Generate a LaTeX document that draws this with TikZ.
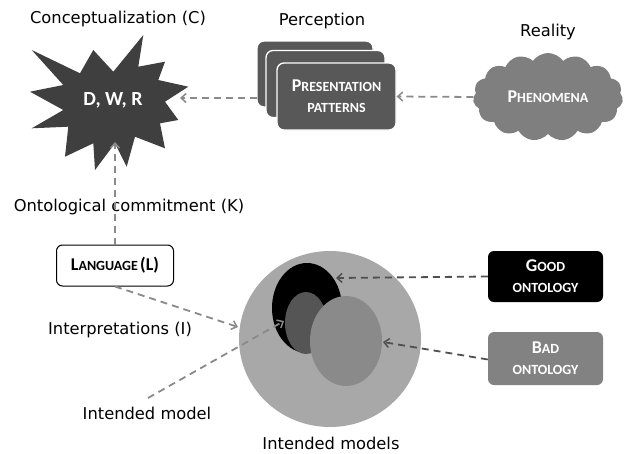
\documentclass[tikz,border=0pt]{standalone}
\usepackage{fontspec}
\setmainfont{DejaVu Sans}
\newfontfamily\boxfont{Carlito}
\usetikzlibrary{arrows.meta,shapes.symbols}
\definecolor{burstc}{HTML}{3F3F3F}
\definecolor{percc}{HTML}{585858}
\definecolor{cloudc}{HTML}{7F7F7F}
\definecolor{bigc}{HTML}{A8A8A8}
\definecolor{darkell}{HTML}{555555}
\definecolor{midell}{HTML}{8A8A8A}
\definecolor{badc}{HTML}{828282}
\definecolor{arrc}{HTML}{8A8A8A}
\definecolor{arrd}{HTML}{505050}
\newcommand\bigsc[1]{{\fontsize{18}{18}\selectfont #1}}
\newcommand\smsc[1]{{\fontsize{14}{16}\selectfont #1}}
\begin{document}
\begin{tikzpicture}[x=1pt,y=-1pt,
  lbl/.style={font=\fontsize{16.3}{19}\selectfont, text=black, inner sep=0pt},
  boxtxt/.style={font=\boxfont\bfseries\fontsize{14}{16}\selectfont, text=white, align=center},
  percbox/.style={fill=percc, draw=white, line width=1.3pt, rounded corners=7pt},
  darr/.style={draw=arrc, line width=1.8pt, dash pattern=on 7pt off 5pt, -{Straight Barb[length=5pt,width=9pt,line width=1.5pt]}},
  darrk/.style={darr, draw=arrd}
]
\useasboundingbox (0,0) rectangle (624,453);

% labels
\node[lbl] (lc) at (118,19) {Conceptualization (C)};
\node[lbl] (lp) at (322,21) {Perception};
\node[lbl] (lr) at (548,32) {Reality};
\node[lbl] (lk) at (129,207) {Ontological commitment (K)};
\node[lbl] (li) at (120,330) {Interpretations (I)};
\node[lbl] (lm) at (147,413) {Intended model};
\node[lbl] (lms) at (331,443) {Intended models};

% starburst
\fill[burstc] (31.7,50) -- (80,73.3) -- (93.3,50) -- (113.3,71.7) -- (143.3,35)
  -- (138.3,66.7) -- (165,61.7) -- (158.3,80) -- (188.3,86.7) -- (165,101.7)
  -- (178.3,120) -- (160,123.3) -- (165,148.3) -- (135,136.7) -- (126.7,166.7)
  -- (115,143.3) -- (95,170) -- (93.3,143.3) -- (65,156.7) -- (68.3,126.7)
  -- (31.7,128.3) -- (63.3,110) -- (30,91.7) -- (63.3,85) -- cycle;
\node[boxtxt, font=\boxfont\bfseries\fontsize{20}{22}\selectfont] (dwr) at (113,100) {D, W, R};
\coordinate (cr) at (180,98);
\coordinate (cb) at (115,142);

% perception boxes
\node[percbox, minimum width=116pt, minimum height=66pt] (pb1) at (315,74) {};
\node[percbox, minimum width=119pt, minimum height=67pt] (pb2) at (325.5,84) {};
\coordinate (pbw) at (257,98);
\draw[darr] (pbw) -- (cr);
\node[percbox, minimum width=119pt, minimum height=67pt, boxtxt] (pp) at (336.5,96.5)
  {\bigsc{P}\smsc{RESENTATION}\\[5pt]\smsc{PATTERNS}};

% cloud
\node[cloud, cloud puffs=15, cloud puff arc=110, aspect=1.8, fill=cloudc, draw=none,
  minimum width=150pt, minimum height=88pt, boxtxt] (ph) at (548,97)
  {\bigsc{P}\smsc{HENOMENA}};
\draw[darr] (ph.west) -- (pp.east);

% language
\node[draw=black, line width=1pt, fill=white, rounded corners=6pt,
  minimum width=117pt, minimum height=41pt, font=\boxfont\bfseries] (lang) at (115,265.5)
  {\bigsc{L}\smsc{ANGUAGE} \bigsc{(L)}};
\draw[darr] (lang.north) -- (cb);

% intended models circle
\fill[bigc] (330,339) ellipse [x radius=91, y radius=88];
\fill[black] (307,308) ellipse [x radius=35, y radius=45];
\fill[darkell] (306,323) ellipse [x radius=21, y radius=31];
\fill[midell] (346,341) ellipse [x radius=36, y radius=45];
\coordinate (cw) at (238,327);
\coordinate (imtip) at (284,321);
\coordinate (imst) at (148,398);
\coordinate (goodtip) at (336,278);
\coordinate (badtip) at (383,342);
\draw[darr] (lang.south) -- (cw);
\draw[darr] (imst) -- (imtip);

% ontology boxes
\node[fill=black, rounded corners=6pt, minimum width=115pt, minimum height=51pt, boxtxt] (good) at (545.5,276.5)
  {\bigsc{G}\smsc{OOD}\\[5pt]\smsc{ONTOLOGY}};
\node[fill=badc, rounded corners=6pt, minimum width=115pt, minimum height=53pt, boxtxt] (bad) at (545.5,358.5)
  {\bigsc{B}\smsc{AD}\\[5pt]\smsc{ONTOLOGY}};
\draw[darrk] (good.west) -- (goodtip);
\draw[darrk] ([yshift=-1pt]bad.west) -- (badtip);
\end{tikzpicture}
\end{document}
